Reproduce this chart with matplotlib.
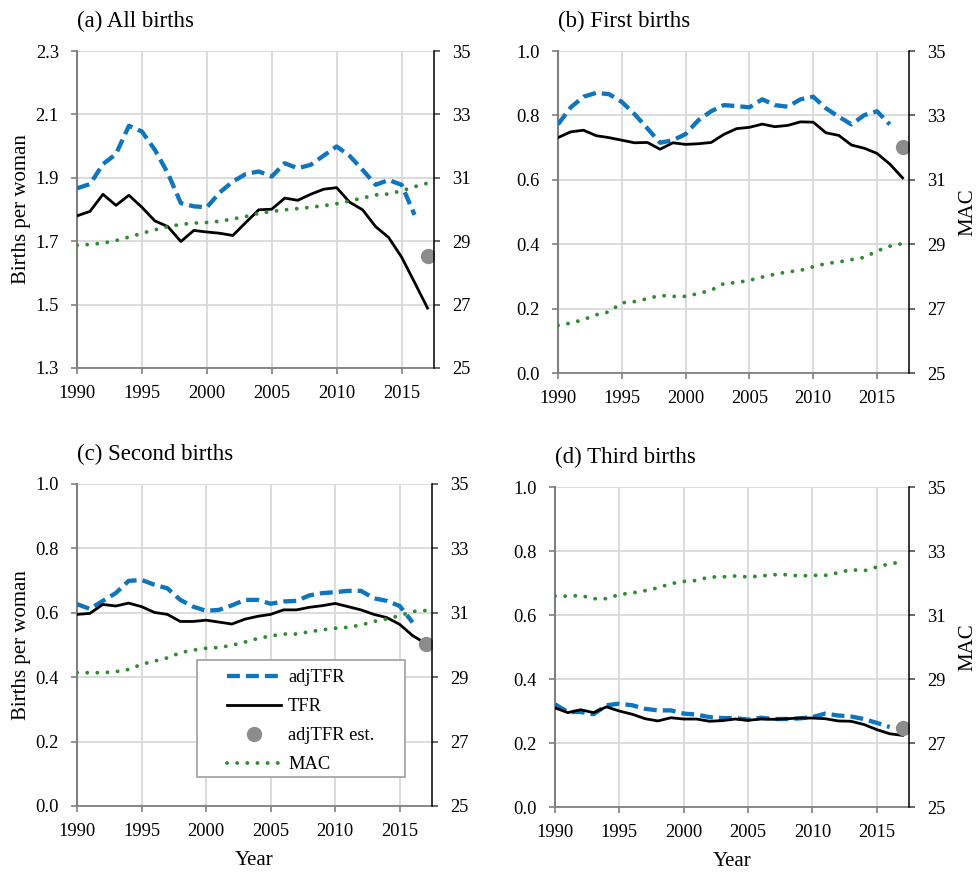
import matplotlib.pyplot as plt
from matplotlib.patches import Rectangle
from matplotlib.lines import Line2D

plt.rcParams['font.family'] = ['Liberation Serif', 'DejaVu Serif']

# years 1990-2017 (adjTFR series stop in 2016, estimate point in 2017)
years = [1990, 1991, 1992, 1993, 1994, 1995, 1996, 1997, 1998, 1999,
         2000, 2001, 2002, 2003, 2004, 2005, 2006, 2007, 2008, 2009,
         2010, 2011, 2012, 2013, 2014, 2015, 2016, 2017]

# (a) all births
tfr_all = [1.780, 1.794, 1.848, 1.813, 1.845, 1.807, 1.764, 1.746, 1.699, 1.734,
           1.729, 1.725, 1.718, 1.759, 1.799, 1.801, 1.836, 1.829, 1.848, 1.864,
           1.869, 1.823, 1.799, 1.746, 1.712, 1.650, 1.570, 1.489]
adj_all = [1.867, 1.880, 1.943, 1.975, 2.064, 2.046, 1.988, 1.914, 1.820, 1.810,
           1.807, 1.854, 1.888, 1.912, 1.920, 1.904, 1.946, 1.930, 1.941, 1.970,
           1.999, 1.969, 1.925, 1.878, 1.893, 1.878, 1.783]
est_all = 1.652
mac_all = [28.87, 28.90, 28.94, 29.02, 29.13, 29.25, 29.36, 29.46, 29.53, 29.57,
           29.59, 29.63, 29.70, 29.78, 29.88, 29.94, 29.99, 30.03, 30.07, 30.12,
           30.18, 30.27, 30.36, 30.46, 30.49, 30.59, 30.72, 30.83]

# (b) first births
tfr_1 = [0.731, 0.749, 0.754, 0.737, 0.731, 0.723, 0.715, 0.716, 0.695, 0.715,
         0.710, 0.712, 0.716, 0.741, 0.759, 0.763, 0.773, 0.765, 0.769, 0.780,
         0.779, 0.746, 0.738, 0.708, 0.698, 0.682, 0.649, 0.606]
adj_1 = [0.772, 0.825, 0.858, 0.870, 0.866, 0.842, 0.804, 0.760, 0.715, 0.723,
         0.742, 0.785, 0.813, 0.832, 0.829, 0.825, 0.850, 0.832, 0.827, 0.850,
         0.858, 0.822, 0.796, 0.772, 0.801, 0.813, 0.772]
est_1 = 0.701
mac_1 = [26.48, 26.55, 26.66, 26.81, 26.90, 27.18, 27.22, 27.31, 27.41, 27.38,
         27.38, 27.47, 27.57, 27.78, 27.81, 27.88, 27.98, 28.07, 28.14, 28.19,
         28.30, 28.40, 28.45, 28.52, 28.59, 28.79, 28.94, 29.02]

# (c) second births
tfr_2 = [0.595, 0.598, 0.626, 0.621, 0.630, 0.619, 0.601, 0.595, 0.573, 0.573,
         0.577, 0.571, 0.565, 0.580, 0.589, 0.595, 0.609, 0.609, 0.617, 0.622,
         0.629, 0.619, 0.609, 0.595, 0.585, 0.564, 0.529, 0.505]
adj_2 = [0.627, 0.612, 0.637, 0.661, 0.699, 0.702, 0.687, 0.676, 0.640, 0.619,
         0.606, 0.609, 0.623, 0.640, 0.640, 0.628, 0.635, 0.637, 0.654, 0.661,
         0.664, 0.668, 0.668, 0.645, 0.637, 0.621, 0.570]
est_2 = 0.502
mac_2 = [29.14, 29.14, 29.14, 29.17, 29.24, 29.40, 29.50, 29.60, 29.76, 29.84,
         29.90, 29.92, 29.99, 30.09, 30.20, 30.28, 30.34, 30.34, 30.41, 30.47,
         30.52, 30.55, 30.62, 30.73, 30.81, 30.91, 31.04, 31.07]

# (d) third births
tfr_3 = [0.310, 0.295, 0.304, 0.295, 0.313, 0.300, 0.290, 0.276, 0.269, 0.279,
         0.275, 0.275, 0.268, 0.270, 0.275, 0.271, 0.275, 0.274, 0.276, 0.278,
         0.278, 0.276, 0.269, 0.268, 0.258, 0.242, 0.229, 0.224]
adj_3 = [0.321, 0.297, 0.297, 0.290, 0.318, 0.323, 0.318, 0.307, 0.302, 0.302,
         0.292, 0.289, 0.281, 0.278, 0.278, 0.273, 0.279, 0.275, 0.275, 0.277,
         0.281, 0.292, 0.286, 0.283, 0.275, 0.263, 0.250]
est_3 = 0.247
mac_3 = [31.59, 31.59, 31.61, 31.51, 31.51, 31.64, 31.69, 31.76, 31.85, 31.98,
         32.05, 32.08, 32.19, 32.19, 32.22, 32.19, 32.22, 32.26, 32.26, 32.22,
         32.24, 32.24, 32.32, 32.42, 32.38, 32.50, 32.60, 32.66]

panels = [
    ('(a) All births', tfr_all, adj_all, est_all, mac_all, (1.3, 2.3)),
    ('(b) First births', tfr_1, adj_1, est_1, mac_1, (0.0, 1.0)),
    ('(c) Second births', tfr_2, adj_2, est_2, mac_2, (0.0, 1.0)),
    ('(d) Third births', tfr_3, adj_3, est_3, mac_3, (0.0, 1.0)),
]

# axes rectangles in figure fractions [left, bottom, width, height]
rects = [
    [0.0789, 0.5780, 0.3658, 0.3635],
    [0.5717, 0.5722, 0.3596, 0.3693],
    [0.0789, 0.0757, 0.3637, 0.3693],
    [0.5686, 0.0745, 0.3627, 0.3670],
]

BLUE = '#0F75BC'
GREEN = '#2E8B2E'
EST = '#8C8C8C'
GRID = '#D9D9D9'
AXGRAY = '#808080'
FS = 13.3      # tick labels, legend
LFS = 15       # axis labels
TFS = 16.5     # panel titles

fig = plt.figure(figsize=(9.76, 8.72), dpi=100)

for i, (title, tfr, adj, est, mac, ylim) in enumerate(panels):
    ax = fig.add_axes(rects[i])
    ax2 = ax.twinx()

    ax.plot(years[:len(adj)], adj, color=BLUE, lw=3.1, linestyle=(0, (3.0, 1.4)),
            dash_capstyle='butt', zorder=3)
    ax.plot(years, tfr, color='black', lw=2, zorder=4)
    ax.plot([years[-1]], [est], 'o', color=EST, ms=10, zorder=5)
    ax2.plot(years, mac, color=GREEN, lw=2.8, linestyle=(0, (0.01, 2.6)),
             dash_capstyle='round')

    ax.set_xlim(1990, 2017.5)
    ax.set_ylim(*ylim)
    ax.set_xticks([1990, 1995, 2000, 2005, 2010, 2015])
    yt = [round(ylim[0] + k * 0.2, 1) for k in range(6)]
    ax.set_yticks(yt)
    ax.set_yticklabels(['%.1f' % v for v in yt])
    ax2.set_ylim(25, 35)
    ax2.set_yticks([25, 27, 29, 31, 33, 35])

    ax.grid(True, color=GRID, lw=1.3)
    ax.set_axisbelow(True)
    for s in ['top', 'right']:
        ax.spines[s].set_visible(False)
    ax.spines['left'].set_color(AXGRAY)
    ax.spines['left'].set_linewidth(1.5)
    ax.spines['bottom'].set_color(AXGRAY)
    ax.spines['bottom'].set_linewidth(1.3)
    for s in ['top', 'left', 'bottom']:
        ax2.spines[s].set_visible(False)
    ax2.spines['right'].set_color('black')
    ax2.spines['right'].set_linewidth(1.1)

    ax.tick_params(axis='both', direction='out', length=4, width=1.2,
                   color=AXGRAY, labelsize=FS)
    ax.tick_params(axis='y', pad=9)
    ax.tick_params(axis='x', pad=8)
    ax2.tick_params(axis='y', direction='out', length=4, width=1.2,
                    color='#505050', labelsize=FS, pad=9)

    ax.annotate(title, xy=(0, 1), xycoords='axes fraction',
                xytext=(0, 21), textcoords='offset points',
                ha='left', va='center', fontsize=TFS)

    if i in (0, 2):
        ax.set_ylabel('Births per woman', fontsize=LFS)
        ax.yaxis.set_label_coords(-0.13, 0.5)
    if i in (1, 3):
        ax2.set_ylabel('MAC', fontsize=LFS)
        ax2.yaxis.set_label_coords(1.14, 0.5)
    if i in (2, 3):
        ax.set_xlabel('Year', fontsize=LFS)
        ax.xaxis.set_label_coords(0.5, -0.14)

    if i == 2:
        frame = Rectangle((0.338, 0.09), 0.586, 0.363, transform=ax2.transAxes,
                          facecolor='white', edgecolor='#A6A6A6', lw=1.3,
                          zorder=6)
        ax2.add_patch(frame)
        handles = [
            Line2D([], [], color=BLUE, lw=3.1, linestyle=(0, (3.0, 1.4)),
                   dash_capstyle='butt'),
            Line2D([], [], color='black', lw=2),
            Line2D([], [], color=EST, marker='o', ms=10, linestyle='none'),
            Line2D([], [], color=GREEN, lw=2.8, linestyle=(0, (0.01, 2.6)),
                   dash_capstyle='round'),
        ]
        leg = ax2.legend(handles, ['adjTFR', 'TFR', 'adjTFR est.', 'MAC'],
                         loc='center left', bbox_to_anchor=(0.4225, 0.263),
                         frameon=False, fontsize=FS, handlelength=2.95,
                         handletextpad=0.35, labelspacing=0.65, borderpad=0,
                         borderaxespad=0)
        leg.set_zorder(7)

fig.savefig('out.png', dpi=100)
